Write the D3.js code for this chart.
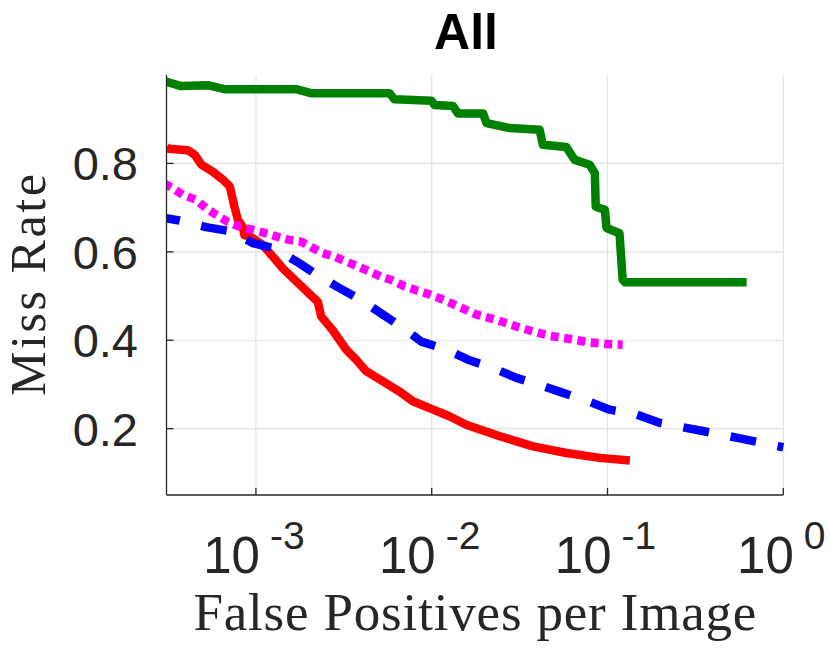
<!DOCTYPE html>
<html lang="en">
<head>
  <meta charset="UTF-8">
  <title>All - Miss Rate vs FPPI</title>
  <script src="https://d3js.org/d3.v7.min.js"></script>
  <style>
    body {
      margin: 0;
      padding: 0;
      background: #fff;
    }
    .tick-label {
      font-family: "Liberation Sans", Arial, sans-serif;
      fill: #262626;
    }
    .axis-title {
      font-family: "Liberation Serif", "DejaVu Serif", serif;
      fill: #262626;
    }
  </style>
</head>
<body>
  <div id="chart"></div>

  <script>
  // values: [false positives per image, miss rate]
  const greenCurve = [
    [3.08e-4, 0.985], [3.75e-4, 0.975], [5.32e-4, 0.977], [6.62e-4, 0.968],
    [1.69e-3, 0.968], [2.06e-3, 0.959], [5.75e-3, 0.959], [6.14e-3, 0.945],
    [9.95e-3, 0.942], [1.04e-2, 0.932], [1.32e-2, 0.930], [1.41e-2, 0.913],
    [1.96e-2, 0.913], [2.05e-2, 0.891], [2.78e-2, 0.880], [4.11e-2, 0.876],
    [4.29e-2, 0.842], [5.83e-2, 0.837], [6.51e-2, 0.808], [7.92e-2, 0.797],
    [8.47e-2, 0.778], [8.57e-2, 0.702], [9.66e-2, 0.695], [9.87e-2, 0.654],
    [0.117, 0.642], [0.122, 0.537], [0.126, 0.531], [0.619, 0.531]
  ];
  const redCurve = [
    [3.1e-4, 0.838], [3.2e-4, 0.833], [4.1e-4, 0.830], [4.5e-4, 0.819],
    [4.9e-4, 0.797], [5.7e-4, 0.781], [6.5e-4, 0.763], [7.1e-4, 0.748],
    [7.55e-4, 0.702], [7.9e-4, 0.672], [8.4e-4, 0.657], [8.6e-4, 0.638],
    [9.6e-4, 0.631], [1.09e-3, 0.616], [1.25e-3, 0.589], [1.42e-3, 0.563],
    [1.7e-3, 0.533], [1.93e-3, 0.512], [2.25e-3, 0.487], [2.35e-3, 0.454],
    [2.74e-3, 0.422], [3.26e-3, 0.379], [3.72e-3, 0.356], [4.24e-3, 0.330],
    [5.28e-3, 0.307], [6.56e-3, 0.284], [7.81e-3, 0.262], [1.02e-2, 0.243],
    [1.26e-2, 0.228], [1.57e-2, 0.209], [2.44e-2, 0.183], [3.77e-2, 0.160],
    [5.84e-2, 0.145], [9.04e-2, 0.134], [0.134, 0.128]
  ];
  const blueCurve = [
    [3.08e-4, 0.676], [3.66e-4, 0.671], [5.2e-4, 0.656], [7.07e-4, 0.647],
    [9.59e-4, 0.620], [1.30e-3, 0.607], [1.77e-3, 0.574], [2.30e-3, 0.544],
    [2.99e-3, 0.518], [3.97e-3, 0.491], [5.28e-3, 0.458], [6.86e-3, 0.428],
    [8.73e-3, 0.397], [1.21e-2, 0.379], [1.61e-2, 0.356], [2.23e-2, 0.337],
    [3.03e-2, 0.315], [4.11e-2, 0.299], [5.58e-2, 0.281], [7.76e-2, 0.262],
    [0.103, 0.243], [0.146, 0.232], [0.199, 0.213], [0.336, 0.196],
    [0.567, 0.178], [1.0, 0.158]
  ];
  const magentaCurve = [
    [3.01e-4, 0.755], [3.36e-4, 0.744], [3.83e-4, 0.729], [4.56e-4, 0.718],
    [5.2e-4, 0.699], [5.93e-4, 0.684], [6.91e-4, 0.668], [8.05e-4, 0.657],
    [9.59e-4, 0.650], [1.14e-3, 0.642], [1.30e-3, 0.635], [1.55e-3, 0.627],
    [1.81e-3, 0.623], [2.06e-3, 0.611], [2.40e-3, 0.597], [2.80e-3, 0.589],
    [3.26e-3, 0.578], [3.80e-3, 0.567], [4.43e-3, 0.555], [5.16e-3, 0.544],
    [6.01e-3, 0.535], [7.01e-3, 0.522], [8.17e-3, 0.513], [9.51e-3, 0.505],
    [1.11e-2, 0.495], [1.32e-2, 0.482], [1.80e-2, 0.458], [2.33e-2, 0.446],
    [3.03e-2, 0.431], [3.77e-2, 0.420], [4.69e-2, 0.410], [6.10e-2, 0.403],
    [7.92e-2, 0.395], [0.103, 0.391], [0.122, 0.390]
  ];

  const xTickExponents = [-3, -2, -1, 0];
  const yTicks = [0.2, 0.4, 0.6, 0.8];

  const width = 830, height = 649;
  const plotLeft = 166.5, plotRight = 783.3, plotTop = 75, plotBottom = 495;

  const x = d3.scaleLog().domain([3.1e-4, 1]).range([plotLeft, plotRight]);
  const y = d3.scaleLinear().domain([0.05, 1]).range([plotBottom, plotTop]);

  const svg = d3.select("#chart").append("svg")
    .attr("width", width)
    .attr("height", height);

  svg.append("defs").append("clipPath").attr("id", "plotClip")
    .append("rect")
    .attr("x", plotLeft).attr("y", plotTop - 6)
    .attr("width", plotRight - plotLeft + 6).attr("height", plotBottom - plotTop + 6);

  // grid
  const grid = svg.append("g").attr("stroke", "#e3e3e3").attr("stroke-width", 1.2);
  grid.selectAll(".vgrid").data(xTickExponents).enter().append("line")
    .attr("x1", d => x(Math.pow(10, d))).attr("x2", d => x(Math.pow(10, d)))
    .attr("y1", plotTop).attr("y2", plotBottom);
  grid.selectAll(".hgrid").data(yTicks).enter().append("line")
    .attr("x1", plotLeft).attr("x2", plotRight)
    .attr("y1", d => y(d)).attr("y2", d => y(d));

  // curves
  const line = d3.line().x(d => x(d[0])).y(d => y(d[1]));
  const curves = svg.append("g").attr("clip-path", "url(#plotClip)")
    .attr("fill", "none")
    .attr("stroke-width", 8.5)
    .attr("stroke-linejoin", "round");

  curves.append("path").datum(greenCurve)
    .attr("d", line).attr("stroke", "#008000");
  curves.append("path").datum(redCurve)
    .attr("d", line).attr("stroke", "#ff0000");
  curves.append("path").datum(blueCurve)
    .attr("d", line).attr("stroke", "#0000ff")
    .attr("stroke-dasharray", "26,22").attr("stroke-dashoffset", 12);
  curves.append("path").datum(magentaCurve)
    .attr("d", line).attr("stroke", "#ff00ff")
    .attr("stroke-dasharray", "8,5.5");

  // axes
  const axes = svg.append("g").attr("stroke", "#262626").attr("stroke-width", 1.3);
  axes.append("line").attr("x1", plotLeft).attr("x2", plotLeft).attr("y1", plotTop).attr("y2", plotBottom);
  axes.append("line").attr("x1", plotLeft).attr("x2", plotRight).attr("y1", plotBottom).attr("y2", plotBottom);
  axes.selectAll(".ytick").data(yTicks).enter().append("line")
    .attr("x1", plotLeft).attr("x2", plotLeft + 7)
    .attr("y1", d => y(d)).attr("y2", d => y(d));
  axes.selectAll(".xtick").data(xTickExponents).enter().append("line")
    .attr("x1", d => x(Math.pow(10, d))).attr("x2", d => x(Math.pow(10, d)))
    .attr("y1", plotBottom).attr("y2", plotBottom - 7);

  // y tick labels
  svg.selectAll(".ylab").data(yTicks).enter().append("text")
    .attr("class", "tick-label")
    .attr("x", 138)
    .attr("y", d => y(d))
    .attr("dy", "0.36em")
    .attr("text-anchor", "end")
    .style("font-size", "47px")
    .text(d => d.toFixed(1));

  // x tick labels, 10 with a raised exponent
  const xl = svg.selectAll(".xlab").data(xTickExponents).enter().append("text")
    .attr("class", "tick-label")
    .attr("x", d => x(Math.pow(10, d)) - 2)
    .attr("y", 573)
    .attr("text-anchor", "middle")
    .style("font-size", "51px");
  xl.append("tspan").text("10");
  xl.append("tspan")
    .attr("dx", 10).attr("dy", -24)
    .style("font-size", "39px")
    .text(d => String(d));

  // axis titles
  svg.append("text")
    .attr("class", "axis-title")
    .attr("x", (plotLeft + plotRight) / 2)
    .attr("y", 630)
    .attr("text-anchor", "middle")
    .attr("textLength", 563)
    .attr("lengthAdjust", "spacing")
    .style("font-size", "53px")
    .text("False Positives per Image");

  svg.append("text")
    .attr("class", "axis-title")
    .attr("transform", `translate(45, ${(plotTop + plotBottom) / 2}) rotate(-90)`)
    .attr("text-anchor", "middle")
    .attr("textLength", 222)
    .attr("lengthAdjust", "spacing")
    .style("font-size", "50px")
    .text("Miss Rate");

  svg.append("text")
    .attr("x", 466)
    .attr("y", 49)
    .attr("text-anchor", "middle")
    .style("font-family", "'Liberation Sans', Arial, sans-serif")
    .style("font-weight", "bold")
    .style("font-size", "50px")
    .style("fill", "#000")
    .text("All");
  </script>
</body>
</html>
